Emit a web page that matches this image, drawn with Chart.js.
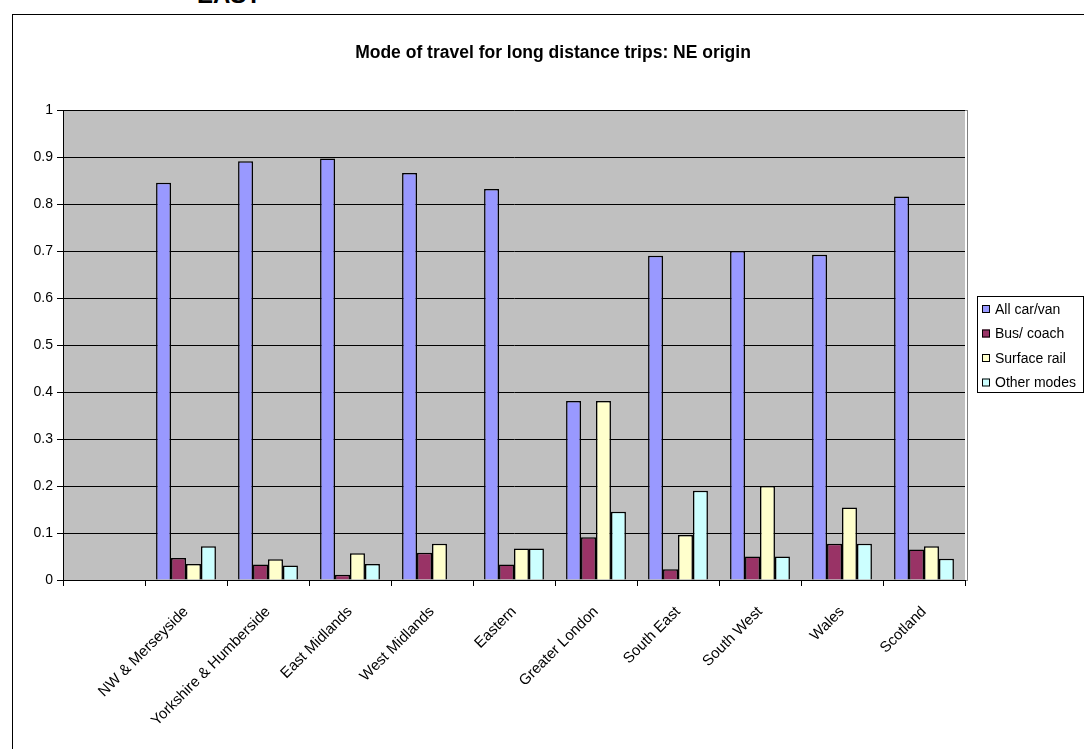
<!DOCTYPE html>
<html>
<head>
<meta charset="utf-8">
<script src="https://cdn.jsdelivr.net/npm/chart.js@4"></script>
<style>
  html, body { margin: 0; padding: 0; width: 1084px; height: 749px; overflow: hidden; background: #fff; }
  #sheetTitle { position: absolute; left: 197px; top: -17px; font: bold 24px "Liberation Sans", Arial, sans-serif; line-height: 24px; color: #000; }
  #frame { position: absolute; left: 12px; top: 14px; width: 1096px; height: 740px; border: 1px solid #000; }
  canvas { display: block; }
</style>
</head>
<body>
<div id="sheetTitle">EAST</div>
<div id="frame"><canvas id="modeChart" width="1096" height="740"></canvas></div>
<script>
// Destination regions (first slot is the NE origin itself, left blank)
const regions = [
  '', 'NW & Merseyside', 'Yorkshire & Humberside', 'East Midlands', 'West Midlands',
  'Eastern', 'Greater London', 'South East', 'South West', 'Wales', 'Scotland'
];

// Share of trips by mode
const carVan     = [null, 0.845, 0.891, 0.897, 0.866, 0.832, 0.381, 0.690, 0.700, 0.692, 0.816];
const busCoach   = [null, 0.047, 0.033, 0.011, 0.058, 0.033, 0.091, 0.023, 0.050, 0.077, 0.065];
const surfRail   = [null, 0.034, 0.044, 0.057, 0.077, 0.067, 0.381, 0.096, 0.200, 0.154, 0.072];
const otherModes = [null, 0.072, 0.031, 0.034, 0, 0.067, 0.145, 0.190, 0.050, 0.077, 0.045];

const yTicks = [0, 0.1, 0.2, 0.3, 0.4, 0.5, 0.6, 0.7, 0.8, 0.9, 1];

const chartTitle = 'Mode of travel for long distance trips: NE origin';

const FONT = '"Liberation Sans", Arial, sans-serif';

// Grey plot area, title and an Excel style boxed legend
const excelLook = {
  id: 'excelLook',
  beforeDraw(chart) {
    const {ctx, chartArea: a} = chart;
    ctx.save();
    ctx.fillStyle = '#c0c0c0';
    ctx.fillRect(a.left, a.top, a.right - a.left, a.bottom - a.top);
    ctx.strokeStyle = '#808080';
    ctx.lineWidth = 1;
    ctx.strokeRect(a.left + 0.5, a.top + 0.5, a.right - a.left + 2, a.bottom - a.top);

    ctx.fillStyle = '#000';
    ctx.font = 'bold 17.5px ' + FONT;
    ctx.textAlign = 'center';
    ctx.textBaseline = 'middle';
    ctx.fillText(chartTitle, 540, 38);
    ctx.restore();
  },
  afterDraw(chart) {
    const {ctx} = chart;
    const x0 = 964, y0 = 281, w = 106, h = 96;
    ctx.save();
    ctx.fillStyle = '#fff';
    ctx.fillRect(x0, y0, w, h);
    ctx.strokeStyle = '#000';
    ctx.lineWidth = 1;
    ctx.strokeRect(x0 + 0.5, y0 + 0.5, w, h);
    ctx.font = '14px ' + FONT;
    ctx.textBaseline = 'middle';
    chart.data.datasets.forEach((ds, i) => {
      const cy = y0 + 13 + i * 24.5;
      ctx.fillStyle = ds.backgroundColor;
      ctx.fillRect(x0 + 5, cy - 4, 8, 8);
      ctx.strokeStyle = '#000';
      ctx.strokeRect(x0 + 5.5, cy - 3.5, 7, 7);
      ctx.fillStyle = '#000';
      ctx.fillText(ds.label, x0 + 18, cy + 1);
    });
    ctx.restore();
  }
};

const series = [
  ['All car/van', carVan, '#9999ff'],
  ['Bus/ coach', busCoach, '#993366'],
  ['Surface rail', surfRail, '#ffffcc'],
  ['Other modes', otherModes, '#ccffff']
];

new Chart(document.getElementById('modeChart').getContext('2d'), {
  type: 'bar',
  data: {
    labels: regions,
    datasets: series.map(([label, data, color]) => ({
      label,
      data,
      backgroundColor: color,
      borderColor: '#000',
      borderWidth: 1.5,
      categoryPercentage: 0.73,
      barPercentage: 1
    }))
  },
  options: {
    responsive: false,
    animation: false,
    layout: {padding: {left: 0, right: 144, top: 95, bottom: 0}},
    plugins: {
      legend: {display: false},
      tooltip: {enabled: false},
      title: {display: false}
    },
    scales: {
      x: {
        grid: {drawOnChartArea: false, drawTicks: true, tickLength: 6, color: '#000'},
        border: {color: '#000'},
        ticks: {
          autoSkip: false, minRotation: 45, maxRotation: 45,
          color: '#000', font: {family: FONT, size: 15}, padding: 17
        },
        afterFit(scale) { scale.height = 175; }
      },
      y: {
        min: 0,
        max: 1,
        afterBuildTicks(scale) { scale.ticks = yTicks.map(v => ({value: v})); },
        grid: {color: '#000', tickLength: 6},
        border: {color: '#000'},
        ticks: {
          color: '#000', font: {family: FONT, size: 14}, padding: 4,
          callback: v => String(Math.round(v * 10) / 10)
        },
        afterFit(scale) { scale.width = 50; }
      }
    }
  },
  plugins: [excelLook]
});
</script>
</body>
</html>
